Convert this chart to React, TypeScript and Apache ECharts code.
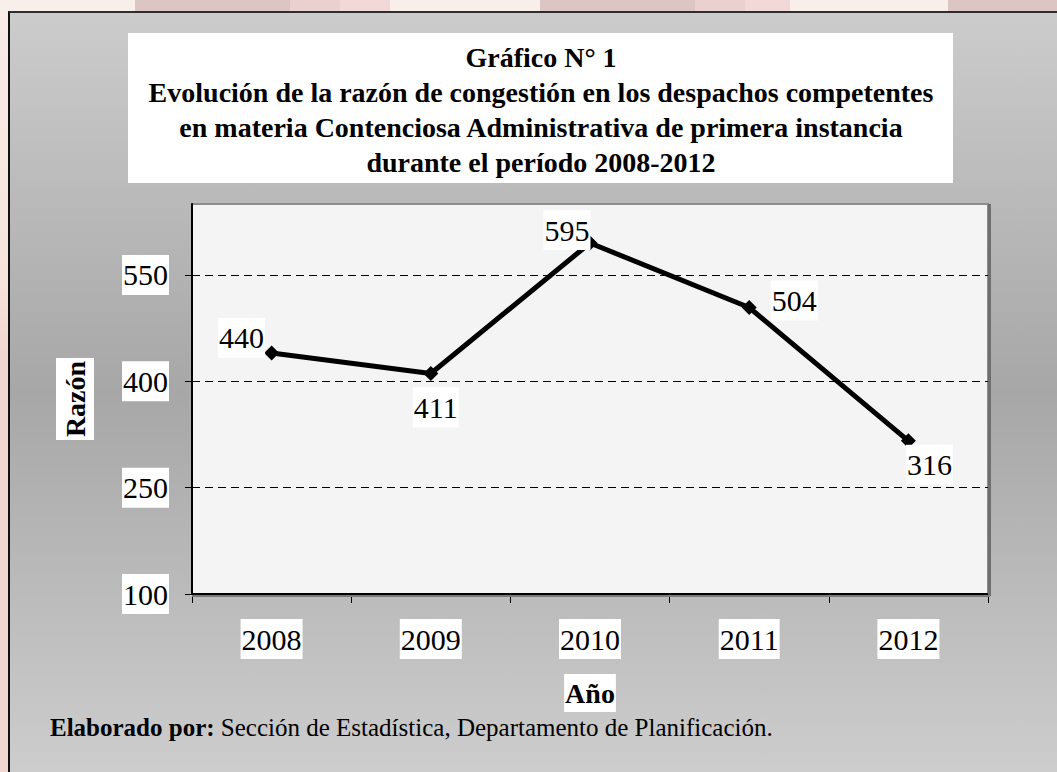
import React, { useEffect, useRef } from "react";
import * as echarts from "echarts";

const years = ["2008", "2009", "2010", "2011", "2012"];
const razon = [440, 411, 595, 504, 316];
const labelOffsets: [number, number][] = [
  [-30, -15],
  [5, 34],
  [-23, -13],
  [45, -7],
  [21, 24],
];
const yTicks = [100, 250, 400, 550];
const titleLines = [
  "Gráfico N° 1",
  "Evolución de la razón de congestión en los despachos competentes",
  "en materia Contenciosa Administrativa de primera instancia",
  "durante el período 2008-2012",
];
const sourceBold = "Elaborado por:";
const sourceText = " Sección de Estadística, Departamento de Planificación.";
const yName = "Razón";
const xName = "Año";

const SERIF = "'Liberation Serif', 'Times New Roman', serif";

export default function App() {
  const ref = useRef<HTMLDivElement>(null);
  useEffect(() => {
    if (!ref.current) return;
    const chart = echarts.init(ref.current, undefined, { renderer: "svg" });
    const labelBox = {
      color: "#000",
      fontFamily: SERIF,
      fontSize: 30,
      lineHeight: 34,
      backgroundColor: "#fff",
      padding: [3, 1, 3, 1],
    };
    chart.setOption({
      animation: false,
      backgroundColor: "transparent",
      grid: {
        left: 192,
        top: 204,
        width: 796,
        height: 390,
        show: true,
        backgroundColor: "#f4f4f4",
        borderColor: "#8c8c8c",
        borderWidth: 2,
      },
      graphic: [
        {
          type: "line",
          shape: { x1: 989.5, y1: 204, x2: 989.5, y2: 596 },
          style: { stroke: "#6f6f6f", lineWidth: 3 },
          z: 1,
        },
        {
          type: "line",
          shape: { x1: 192, y1: 596, x2: 990, y2: 596 },
          style: { stroke: "#7a7a7a", lineWidth: 2 },
          z: 1,
        },
        {
          type: "rect",
          shape: { x: 128, y: 33, width: 825, height: 150 },
          style: { fill: "#ffffff" },
        },
        {
          type: "text",
          x: 541,
          y: 40,
          style: {
            text: titleLines.join("\n"),
            fontFamily: SERIF,
            fontWeight: "bold",
            fontSize: 28,
            lineHeight: 35,
            fill: "#000",
            align: "center",
            verticalAlign: "top",
          },
        },
        {
          type: "text",
          x: 50,
          y: 727,
          style: {
            text: "{b|" + sourceBold + "}{r|" + sourceText + "}",
            verticalAlign: "middle",
            rich: {
              b: { fontFamily: SERIF, fontWeight: "bold", fontSize: 25, fill: "#000", color: "#000" },
              r: { fontFamily: SERIF, fontSize: 25, fill: "#000", color: "#000" },
            },
          },
        },
      ],
      xAxis: {
        type: "category",
        data: years,
        boundaryGap: true,
        axisLine: { show: true, lineStyle: { color: "#000", width: 2 } },
        axisTick: { show: true, length: 9, lineStyle: { color: "#000", width: 1 } },
        axisLabel: { ...labelBox, margin: 25 },
        splitLine: { show: false },
        name: xName,
        nameLocation: "middle",
        nameGap: 80,
        nameTextStyle: {
          color: "#000",
          fontFamily: SERIF,
          fontWeight: "bold",
          fontSize: 28,
          lineHeight: 32,
          backgroundColor: "#fff",
          padding: [3, 1, 3, 1],
        },
      },
      yAxis: {
        type: "value",
        min: 100,
        max: 650,
        interval: 150,
        axisLine: { show: true, lineStyle: { color: "#000", width: 2 } },
        axisTick: { show: true, length: 7, lineStyle: { color: "#000", width: 1 }, customValues: yTicks },
        axisLabel: { ...labelBox, margin: 23, customValues: yTicks },
        splitLine: {
          show: true,
          showMinLine: false,
          lineStyle: { color: "#000", width: 1, type: [8, 5] },
        },
        name: yName,
        nameLocation: "middle",
        nameGap: 98,
        nameRotate: 90,
        nameTextStyle: {
          color: "#000",
          fontFamily: SERIF,
          fontWeight: "bold",
          fontSize: 28,
          lineHeight: 32,
          backgroundColor: "#fff",
          padding: [3, 3, 3, 3],
        },
      },
      series: [
        {
          type: "line",
          data: razon.map((v, i) => ({
            value: v,
            label: { offset: labelOffsets[i] },
          })),
          symbol: "diamond",
          symbolSize: 15,
          showAllSymbol: true,
          lineStyle: { color: "#000", width: 5 },
          itemStyle: { color: "#000" },
          label: {
            show: true,
            position: "inside",
            ...labelBox,
          },
          z: 3,
        },
      ],
    });
    return () => chart.dispose();
  }, []);

  return (
    <div style={{ position: "fixed", left: 0, top: 0, width: 1057, height: 772, overflow: "hidden" }}>
      <div
        style={{
          position: "absolute",
          left: 0,
          top: 0,
          width: 1057,
          height: 11,
          background:
            "linear-gradient(to right, #f8eeea 0px, #f8eeea 135px, #dcc6c4 135px, #dcc6c4 290px, #ead0ce 290px, #ead0ce 340px, #f2d8d6 340px, #f2d8d6 390px, #f8eeea 390px, #f8eeea 540px, #dcc6c4 540px, #dcc6c4 695px, #ead0ce 695px, #ead0ce 745px, #f2d8d6 745px, #f2d8d6 790px, #f8eeea 790px, #f8eeea 948px, #dcc6c4 948px, #dcc6c4 1057px)",
        }}
      />
      <div
        style={{
          position: "absolute",
          left: 0,
          top: 11,
          width: 8,
          height: 761,
          background: "linear-gradient(to bottom, #f8ece8 0%, #f6e4dc 35%, #f2d6d2 45%, #f2d6d2 100%)",
        }}
      />
      <div
        style={{
          position: "absolute",
          left: 8,
          top: 11,
          width: 1049,
          height: 761,
          boxSizing: "border-box",
          borderTop: "2px solid #2e2e2e",
          borderLeft: "2px solid #111",
          background: "linear-gradient(to bottom, #cccccc 0%, #a7a7a7 50%, #cdcdcd 100%)",
        }}
      />
      <div ref={ref} style={{ position: "absolute", left: 0, top: 0, width: 1057, height: 772 }} />
    </div>
  );
}
